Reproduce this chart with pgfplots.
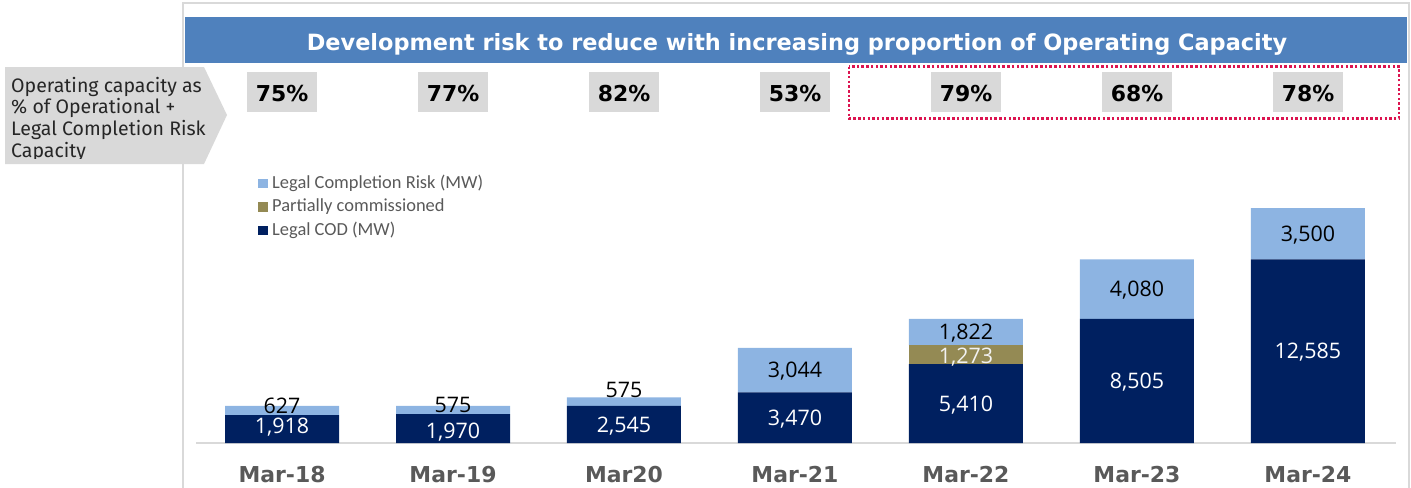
\documentclass[border=0pt]{standalone}
\usepackage{pgfplots}
\pgfplotsset{compat=1.18}
\usepackage{fontspec}
\setmainfont{Fira Sans}
\newfontfamily\dejavu{DejaVu Sans}
\newfontfamily\carlito{Carlito}
\newfontfamily\opensans{Open Sans}
\definecolor{titleblue}{RGB}{79,129,189}
\definecolor{darknavy}{RGB}{0,32,96}
\definecolor{lightblue}{RGB}{141,180,226}
\definecolor{olivec}{RGB}{148,138,84}
\definecolor{boxgray}{RGB}{217,217,217}
\definecolor{framegray}{RGB}{217,217,217}
\definecolor{labgray}{RGB}{89,89,89}
\definecolor{dotred}{RGB}{220,20,80}
\tikzset{lbl/.style={inner sep=0pt, text height=15bp, text depth=0bp, font=\opensans\fontsize{21.5}{24}\selectfont, anchor=center}}
\begin{document}
\begin{tikzpicture}
\useasboundingbox (0,0) rectangle (1411bp,-488bp);
% frame
\draw[framegray, line width=2.5bp] (183bp,-488bp) -- (183bp,-3bp) -- (1409bp,-3bp) -- (1409bp,-488bp);
% title bar
\fill[titleblue] (185bp,-17bp) rectangle (1407bp,-63bp);
\node[anchor=base, inner sep=0pt, text=white, font=\dejavu\bfseries\fontsize{22.5}{26}\selectfont] at (797bp,-50bp) {Development risk to reduce with increasing proportion of Operating Capacity};
% left arrow
\fill[boxgray] (5bp,-67bp) -- (204bp,-67bp) -- (227bp,-115bp) -- (204bp,-164bp) -- (5bp,-164bp) -- cycle;
\begin{scope}
\clip (0bp,-60bp) rectangle (230bp,-158bp);
\begin{scope}[every node/.style={anchor=base west, inner sep=0pt, text={black!85}, font=\fontsize{19.6}{22}\selectfont}]
\node at (11bp,-92bp) {Operating capacity as};
\node at (11bp,-113.7bp) {\% of Operational +};
\node at (11bp,-135.4bp) {Legal Completion Risk};
\node at (11bp,-157bp) {Capacity};
\end{scope}
\end{scope}
% percentage boxes
\foreach \c/\t in {282/75,453/77,624/82,795/53,966/79,1137/68,1308/78}{
  \fill[boxgray] ({(\c-35)*1bp},-72bp) rectangle ({(\c+35)*1bp},-112bp);
  \node[anchor=base, inner sep=0pt, font=\dejavu\bfseries\fontsize{22}{26}\selectfont] at ({\c*1bp},-101.5bp) {\t\%};
}
% dotted highlight
\draw[dotred, line width=2.5bp, dash pattern=on 2.5bp off 2.2bp] (849bp,-66.5bp) rectangle (1399bp,-118.5bp);
\begin{axis}[
  at={(196bp,-443bp)}, anchor=south west,
  scale only axis, width=1200bp, height=273bp,
  xmin=-0.503, xmax=6.515, ymin=0, ymax=18700,
  ybar stacked, bar width=114bp,
  axis y line=none, axis x line=bottom,
  x axis line style={draw=framegray, line width=2bp, -},
  xtick={0,...,6},
  xticklabels={Mar-18,Mar-19,Mar20,Mar-21,Mar-22,Mar-23,Mar-24},
  major tick length=0pt,
  xticklabel style={anchor=base, yshift=-39bp, inner sep=0pt, font=\dejavu\bfseries\fontsize{22}{26}\selectfont, text=labgray},
  clip=false,
  reverse legend,
  legend cell align=left,
  legend style={at={(0.0517,0.982)}, anchor=north west, draw=none, fill=none, inner sep=0pt,
    row sep=6.5bp, font=\carlito\fontsize{18.5}{21}\selectfont,
    nodes={inner sep=0pt, text height=13bp, text depth=4bp, text=labgray},
    /tikz/every odd column/.append style={column sep=4bp}},
]
\addplot[fill=darknavy, draw=none, legend image code/.code={\fill[darknavy] (0bp,-4.5bp) rectangle (10bp,5bp);}]
  coordinates {(0,1918) (1,1970) (2,2545) (3,3470) (4,5410) (5,8505) (6,12585)};
\addlegendentry{Legal COD (MW)}
\addplot[fill=olivec, draw=none, legend image code/.code={\fill[olivec] (0bp,-4.5bp) rectangle (10bp,5bp);}]
  coordinates {(0,0) (1,0) (2,0) (3,0) (4,1273) (5,0) (6,0)};
\addlegendentry{Partially commissioned}
\addplot[fill=lightblue, draw=none, legend image code/.code={\fill[lightblue] (0bp,-4.5bp) rectangle (10bp,5bp);}]
  coordinates {(0,627) (1,575) (2,575) (3,3044) (4,1822) (5,4080) (6,3500)};
\addlegendentry{Legal Completion Risk (MW)}
% label anchors
\coordinate (a1) at (axis cs:0,2568);
\coordinate (a2) at (axis cs:0,1164);
\coordinate (a3) at (axis cs:1,2603);
\coordinate (a4) at (axis cs:1,822);
\coordinate (a5) at (axis cs:2,3630);
\coordinate (a6) at (axis cs:2,1233);
\coordinate (a7) at (axis cs:3,4992);
\coordinate (a8) at (axis cs:3,1735);
\coordinate (a9) at (axis cs:4,7620);
\coordinate (a10) at (axis cs:4,5993);
\coordinate (a11) at (axis cs:4,2690);
\coordinate (a12) at (axis cs:5,10545);
\coordinate (a13) at (axis cs:5,4252);
\coordinate (a14) at (axis cs:6,14335);
\coordinate (a15) at (axis cs:6,6292);
\end{axis}
% data labels (on top of bars)
\node[lbl, text=black] at (a1) {627};
\node[lbl, text=white] at (a2) {1,918};
\node[lbl, text=black] at (a3) {575};
\node[lbl, text=white] at (a4) {1,970};
\node[lbl, text=black] at (a5) {575};
\node[lbl, text=white] at (a6) {2,545};
\node[lbl, text=black] at (a7) {3,044};
\node[lbl, text=white] at (a8) {3,470};
\node[lbl, text=black] at (a9) {1,822};
\node[lbl, text=white!95!black] at (a10) {1,273};
\node[lbl, text=white] at (a11) {5,410};
\node[lbl, text=black] at (a12) {4,080};
\node[lbl, text=white] at (a13) {8,505};
\node[lbl, text=black] at (a14) {3,500};
\node[lbl, text=white] at (a15) {12,585};
\end{tikzpicture}
\end{document}
